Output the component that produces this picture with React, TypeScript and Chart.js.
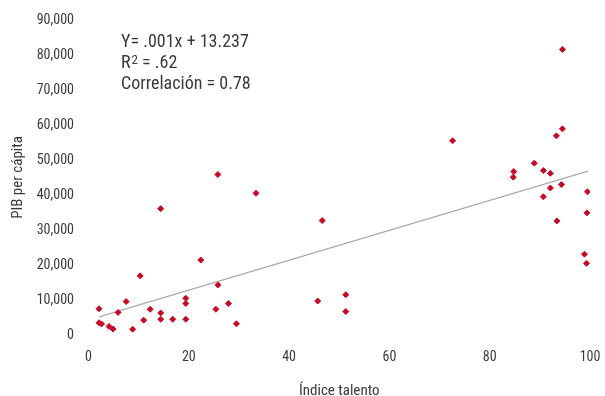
import React, { useEffect, useRef } from "react";
import { Chart, registerables } from "chart.js";

Chart.register(...registerables);

// Índice de talento (x) y PIB per cápita (y) por país
const talentIndex: number[] = [
  2.1, 2.1, 2.6, 4.1, 4.9, 5.9, 7.5, 8.8, 10.3, 11.0,
  12.3, 14.4, 14.4, 14.4, 16.8, 19.4, 19.4, 19.4, 22.4, 25.4,
  25.8, 25.8, 27.9, 29.5, 33.4, 46.6, 45.7, 51.3, 51.3, 72.6,
  84.8, 84.7, 88.9, 90.7, 92.1, 94.3, 92.1, 90.7, 99.5, 99.4,
  93.4, 98.9, 99.3, 94.5, 94.5, 93.3,
];
const gdpPerCapita: number[] = [
  7500, 3500, 3150, 2450, 1700, 6450, 9550, 1650, 16900, 4250,
  7350, 36100, 6300, 4500, 4500, 10500, 9000, 4500, 21400, 7350,
  14300, 45850, 9000, 3200, 40500, 32700, 9700, 11500, 6700, 55500,
  46700, 45100, 49100, 47000, 46200, 43000, 42000, 39500, 40900, 34900,
  32600, 23100, 20500, 81600, 58900, 56900,
];

// Recta de tendencia
const trendSlope = 427;
const trendIntercept = 4300;
const trendRange: number[] = [2.1, 99.6];

// Ejes
const xTicks: number[] = [0, 20, 40, 60, 80, 100];
const yTicks: number[] = [0, 10000, 20000, 30000, 40000, 50000, 60000, 70000, 80000, 90000];

const equationText = "Y= .001x + 13.237";
const rSquaredValue = ".62";
const correlationText = "Correlación = 0.78";

const FONT = "'Liberation Sans Narrow', 'Roboto Condensed', 'DejaVu Sans Condensed', sans-serif";
const TEXT = "#3a3a3a";
const RED = "#c50a26";

const annotationPlugin = {
  id: "regressionNote",
  afterDraw(chart: any) {
    const { ctx } = chart;
    ctx.save();
    ctx.fillStyle = TEXT;
    ctx.textBaseline = "alphabetic";
    ctx.textAlign = "left";
    const x = 121;
    const ys = [46.5, 67.5, 89];
    ctx.font = `18px ${FONT}`;
    ctx.fillText(equationText, x, ys[0]);
    // R con el 2 en superíndice
    ctx.fillText("R", x, ys[1]);
    let cx = x + ctx.measureText("R").width + 1;
    ctx.font = `13px ${FONT}`;
    ctx.fillText("2", cx, ys[1] - 4);
    cx += ctx.measureText("2").width;
    ctx.font = `18px ${FONT}`;
    ctx.fillText(` = ${rSquaredValue}`, cx, ys[1]);
    ctx.fillText(correlationText, x, ys[2]);
    ctx.restore();
  },
};

export default function App() {
  const canvasRef = useRef<HTMLCanvasElement | null>(null);

  useEffect(() => {
    if (!canvasRef.current) return;
    const points = talentIndex.map((x, i) => ({ x, y: gdpPerCapita[i] }));
    const trend = trendRange.map((x) => ({ x, y: trendIntercept + trendSlope * x }));

    const chart = new Chart(canvasRef.current, {
      type: "scatter",
      data: {
        datasets: [
          {
            type: "scatter",
            data: points,
            pointStyle: "rectRot",
            pointRadius: 3,
            pointBorderWidth: 1,
            backgroundColor: RED,
            borderColor: RED,
            order: 0,
          },
          {
            type: "line",
            data: trend,
            borderColor: "#ababab",
            borderWidth: 1.2,
            pointRadius: 0,
            fill: false,
            order: 1,
          } as any,
        ],
      },
      plugins: [annotationPlugin],
      options: {
        animation: false,
        responsive: false,
        layout: { padding: { top: 20, right: 15, bottom: 0, left: 0 } },
        plugins: { legend: { display: false }, tooltip: { enabled: false } },
        scales: {
          x: {
            type: "linear",
            min: 0,
            max: 100,
            grid: { display: false, drawTicks: false },
            border: { display: false },
            afterBuildTicks: (scale: any) => {
              scale.ticks = xTicks.map((value) => ({ value }));
            },
            afterFit: (scale: any) => {
              scale.height = 61;
              scale.paddingLeft = 0;
              scale.paddingRight = 0;
            },
            ticks: {
              padding: 14.5,
              color: TEXT,
              font: { family: FONT, size: 14 },
              callback: (v: any) => String(v),
            },
            title: {
              display: true,
              text: "Índice talento",
              color: TEXT,
              font: { family: FONT, size: 15 },
              padding: { top: 12.5, bottom: -4 },
            },
          },
          y: {
            type: "linear",
            min: 0,
            max: 90000,
            grid: { display: false, drawTicks: false },
            border: { display: false },
            afterBuildTicks: (scale: any) => {
              scale.ticks = yTicks.map((value) => ({ value }));
            },
            afterFit: (scale: any) => {
              scale.width = 88.5;
              scale.paddingTop = 0;
              scale.paddingBottom = 0;
            },
            ticks: {
              padding: 14.5,
              color: TEXT,
              font: { family: FONT, size: 14 },
              callback: (v: any) => Number(v).toLocaleString("en-US"),
            },
            title: {
              display: true,
              text: "PIB per cápita",
              color: TEXT,
              font: { family: FONT, size: 15 },
              padding: { top: 9, bottom: 0 },
            },
          },
        },
      },
    });
    return () => chart.destroy();
  }, []);

  return (
    <div style={{ position: "absolute", left: 0, top: 0, width: 605, height: 396, background: "#fff" }}>
      <canvas ref={canvasRef} width={605} height={396} />
    </div>
  );
}
